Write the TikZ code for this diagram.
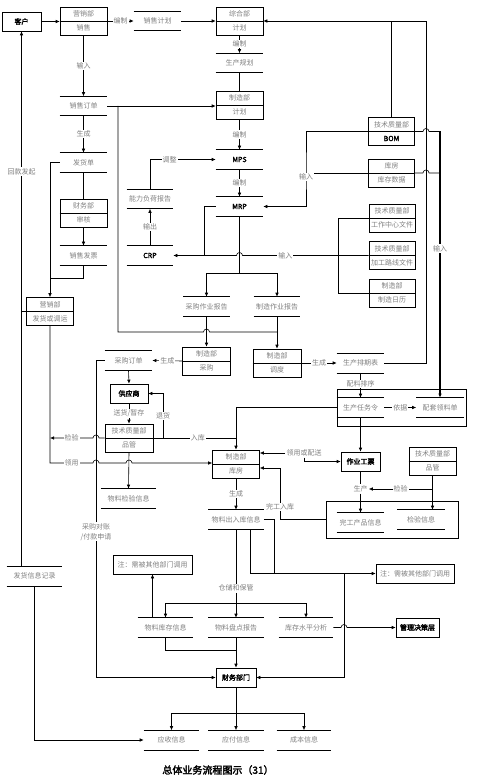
\documentclass[tikz,border=0pt]{standalone}
\usepackage{fontspec}
\setmainfont{Noto Sans CJK SC}
\newfontfamily\cjkbf[FakeBold=2.5]{Noto Sans CJK SC}
\usepackage{tikz}
\usetikzlibrary{arrows.meta,positioning,calc}

\begin{document}
\begin{tikzpicture}[
  x=1pt, y=-1pt, line width=0.6pt,
  every node/.style={font=\fontsize{7}{8}\selectfont, inner sep=0pt},
  deptbox/.style={draw, minimum height=28pt},
  keybox/.style ={draw, minimum height=19pt, font=\cjkbf\fontsize{7}{8}\selectfont},
  notebox/.style={draw, minimum height=19pt, text=black!50},
  store/.style  ={minimum height=19pt, text=black!50},
  frame/.style  ={draw},
  grey/.style   ={text=black!50},
  lbl/.style    ={text=black!50, fill=white, inner sep=1pt},
  arr/.style    ={-{Latex[length=4pt,width=3.5pt]}}]

\useasboundingbox (0,0) rectangle (477,783);

% two-part department box: name, centre, upper text, lower text
\newcommand{\twobox}[5][47]{%
  \node[deptbox, minimum width=#1pt] (#2) at (#3) {};
  \draw (#2.west) -- (#2.east);
  \node[grey] at ($(#2.center)+(0,-7)$) {#4};
  \node[grey] at ($(#2.center)+(0,7)$) {#5};}
% data store: two horizontal lines
\newcommand{\dstore}[4][47]{%
  \node[store, minimum width=#1pt] (#2) at (#3) {#4};
  \draw (#2.north west) -- (#2.north east) (#2.south west) -- (#2.south east);}

% ============================  boxes  ================================
\node[keybox, minimum width=39pt] (kh) at (21.5,21.5) {客户};
\twobox{yxxs}{83.5,21}{营销部}{销售}
\dstore{xsjh}{157.5,21}{销售计划}
\twobox{zhjh}{239.5,21}{综合部}{计划}
\dstore{scgh}{239.5,63}{生产规划}
\twobox{zzjh}{239.5,105}{制造部}{计划}
\dstore{mps}{239.5,159.5}{{\cjkbf\color{black}MPS}}
\dstore{mrp}{239.5,206.5}{{\cjkbf\color{black}MRP}}
\dstore[46]{nlfh}{150,199}{能力负荷报告}
\dstore[46]{crp}{150,255.5}{{\cjkbf\color{black}CRP}}

\dstore{xsdd}{83.5,106}{销售订单}
\dstore{fhd}{83.5,162.5}{发货单}
\twobox{cwsh}{83.5,213}{财务部}{审核}
\dstore{xsfp}{83.5,255.5}{销售发票}
\twobox{yxdy}{50,311.5}{营销部}{发货或调运}

\twobox[46]{bom}{391.5,131.5}{技术质量部}{{\cjkbf\color{black}BOM}}
\twobox[46]{kfsj}{391.5,173}{库房}{库存数据}
\twobox[46]{gzzx}{392,218}{技术质量部}{工作中心文件}
\twobox[46]{jglx}{392,255.5}{技术质量部}{加工路线文件}
\twobox[46]{zzrl}{392,293}{制造部}{制造日历}

\dstore[46]{cgzy}{206.5,306.5}{采购作业报告}
\dstore[46]{zzzy}{277,306.5}{制造作业报告}
\twobox[48]{zzcg}{206.5,361}{制造部}{采购}
\twobox[48]{zzdd}{277,363}{制造部}{调度}
\dstore{cgdd}{128.5,360.5}{采购订单}
\dstore{scpc}{360.5,363}{生产排期表}
\node[keybox, minimum width=38pt] (gys) at (129,393.5) {供应商};
\twobox[48]{pgl}{129,438}{技术质量部}{品管}

\node[frame, minimum width=129pt, minimum height=37pt] (rwbox) at (401.5,407.5) {};
\dstore{scrw}{360.5,407.5}{生产任务令}
\dstore{ptll}{440,407.5}{配套领料单}
\twobox{kfgl}{236,464}{制造部}{库房}
\node[keybox, minimum width=39pt] (zygp) at (360.5,461.5) {作业工票};
\twobox{pgr}{432.5,461}{技术质量部}{品管}

\dstore[55]{wljy}{128.5,498.5}{物料检验信息}
\node[frame, minimum width=132pt, minimum height=37pt] (wcbox) at (392,519.5) {};
\dstore{wccp}{360.5,522.5}{完工产品信息}
\dstore{jyxx}{421,519.5}{检验信息}
\dstore[55]{crk}{236,519.5}{物料出入库信息}

\node[notebox, minimum width=79pt] (zhu1) at (152.5,564.5) {注：需被其他部门调用};
\node[notebox, minimum width=78pt] (zhu2) at (415,573.5) {注：需被其他部门调用};
\dstore[55]{fhjl}{34.5,576}{发货信息记录}

\dstore[55]{wlkc}{165.5,627.5}{物料库存信息}
\dstore[55]{wlpd}{236,627.5}{物料盘点报告}
\dstore[54]{kcsp}{306,627.5}{库存水平分析}
\node[keybox, minimum width=43pt] (gljc) at (417.5,627.5) {管理决策层};
\node[keybox, minimum width=40pt] (cwbm) at (236,677.5) {财务部门};

\dstore[55]{ysxx}{171.5,740}{应收信息}
\dstore[55]{yfxx}{236,740}{应付信息}
\dstore[54]{cbxx}{304,740}{成本信息}

% ==========================  connectors  =============================
\coordinate (c1) at (426,21);
\coordinate (k1) at (239.5,273);
\coordinate (l1) at (306,173);
\coordinate (m3) at (204,255.5);
\coordinate (n1) at (440,131.5);
\coordinate (p1) at (118,106);
\coordinate (u1) at (50,278);
\coordinate (x1) at (50,463);
\coordinate (a1) at (96,360.5);
\coordinate (d1) at (163,438);
\coordinate (e1) at (236,438);
\coordinate (w1) at (280,468);
\coordinate (q1) at (250,573.5);
\coordinate (q2) at (274,573.5);
\coordinate (q3) at (344,573.5);
\coordinate (r1) at (236,603);
\coordinate (t1) at (236,650);
\coordinate (v2) at (236,713);

% top row and planning column
\draw[arr] (kh.east) -- (kh.east -| yxxs.west);
\draw[arr] (yxxs.east) -- node[lbl] {编制} (xsjh.west);
\draw[arr] (xsjh.east) -- (zhjh.west);
\draw[arr] (scpc.east) -| (c1) -- (zhjh.east);
\draw (bom.north) -- (bom.north |- c1);
\draw[arr] (zhjh.south) -- node[lbl] {编制} (scgh.north);
\draw (scgh.south) -- (zzjh.north);
\draw[arr] (zzjh.south) -- node[lbl] {编制} (mps.north);
\draw[arr] (mps.south) -- node[lbl] {编制} (mrp.north);
\draw[arr] (nlfh.north) |- node[lbl, pos=0.65] {调整} (mps.west);
\draw[arr] (crp.north) -- node[lbl] {输出} (nlfh.south);
\draw (mrp.south) -- (k1);
\draw[arr] (k1) -| (cgzy.north);
\draw[arr] (k1) -| (zzzy.north);
\draw[arr] (cgzy.south) -- (zzcg.north);
\draw[arr] (zzzy.south) -- (zzdd.north);

% inputs from the technical files
\draw[arr] (bom.west) -| (l1) |- (mrp.east);
\draw (kfsj.west) -- (l1);
\node[lbl] (sr1) at (306,177) {输入};
\draw (gzzx.west) -- ++(-30,0) |- (zzrl.west);
\draw[arr] (jglx.west) -- node[lbl, pos=0.66] {输入} (242.5,255.5)
  arc[start angle=0, end angle=-180, radius=3] -- (crp.east);
\draw (m3) |- (mrp.west);
\draw (bom.east) -- (423,131.5) arc[start angle=180, end angle=360, radius=3] -- (n1);
\draw (kfsj.east) -- (423,173) arc[start angle=180, end angle=360, radius=3] -- (440,173);
\draw[arr, line width=1.1pt] (n1) -- node[lbl, pos=0.44] {输入} (ptll.north);

% sales column
\draw[arr] (xsdd.east) -- (xsdd.east -| zzjh.west);
\draw (p1) -- (118,332) -- (203.5,332) arc[start angle=180, end angle=360, radius=3] -- (277,332);
\draw[arr] (yxxs.south) -- node[lbl] {输入} (xsdd.north);
\draw[arr] (xsdd.south) -- node[lbl] {生成} (fhd.north);
\draw (fhd.south) -- (cwsh.north);
\draw[arr] (cwsh.south) -- (xsfp.north);
\draw (xsfp.south) |- (u1);
\draw[arr] (fhd.west) -| (yxdy.north);
\draw[arr] (yxdy.west) -| node[lbl, pos=0.75] {回款发起} (kh.south);
\draw (yxdy.west -| kh.south) -- (kh.south |- fhjl.north);
\draw[arr] (fhjl.south) |- (ysxx.west);
\draw[arr] (yxdy.south) -- (x1) -- node[lbl] {领用} (93,463)
  arc[start angle=180, end angle=360, radius=3] -- (126,463)
  arc[start angle=180, end angle=360, radius=3] -- (x1 -| kfgl.west);
\draw[arr] (pgl.west) -- (99,438) arc[start angle=0, end angle=-180, radius=3]
  -- node[lbl] {检验} (50,438);

% purchasing
\draw[arr] (zzcg.west) -- node[lbl] {生成} (cgdd.east);
\draw[arr] (cgdd.west) -- (a1) |- node[lbl, pos=0.27, align=center,
  font=\fontsize{7}{10}\selectfont] {采购对账\\/付款申请} (cwbm.west);
\draw[arr] (cgdd.south) -- (gys.north);
\draw[arr] (gys.south) -- node[lbl] {送货/暂存} (pgl.north);
\draw[arr] (d1) |- node[lbl, pos=0.25] {退货} (gys.east);
\draw[arr] (pgl.east) -- node[lbl, pos=0.54] {入库} (e1) -- (kfgl.north);
\draw (rwbox.west) -| (e1);
\draw[arr] (pgl.south) -- (wljy.north);

% production
\draw[arr] (zzdd.east) -- node[lbl] {生成} (scpc.west);
\draw[arr] (scpc.south) -- node[lbl, pos=0.45] {配料排序} (scrw.north);
\draw[arr] (scrw.east) -- node[lbl] {依据} (ptll.west);
\draw[arr] (scrw.south) -- (zygp.north);
\node[lbl] (lyps) at (304,453) {领用或配送};
\draw[arr] (lyps.west) -- (lyps.west -| kfgl.east);
\draw[arr] (lyps.south) |- (zygp.west);
\node[lbl] (scl) at (360.5,489) {生产};
\draw (zygp.south) -- (scl.north);
\draw[arr] (scl.south) -- (wccp.north);
\draw[arr] (pgr.south |- scl) -- node[lbl] {检验} (scl.east);
\draw[arr] (pgr.south) -- (pgr.south |- jyxx.north);
\draw[arr] (wcbox.west) -| node[lbl, pos=0.62] {完工入库} (w1) -- (w1 -| kfgl.east);

% stock and finance
\draw[arr] (kfgl.south) -- node[lbl] {生成} (crk.north);
\draw (crk.east) -| (q2);
\draw[arr] (crk.south -| q1) -- (q1) -- (zhu2.west);
\draw[arr] (q3) |- (cwbm.east);
\draw (crk.south) -- node[lbl, pos=0.8] {仓储和保管} (r1);
\draw[arr] (r1) -| (wlkc.north);
\draw[arr] (r1) -- (wlpd.north);
\draw[arr] (r1) -| (kcsp.north);
\draw[arr] (zhu1.south |- wlkc.north) -- (zhu1.south);
\draw (wlkc.south) |- (t1);
\draw[arr] (wlpd.south) -- (cwbm.north);
\draw[arr] (kcsp.east) -- (341,627.5) arc[start angle=180, end angle=360, radius=3] -- (gljc.west);
\draw (cwbm.south) -- (v2);
\draw[arr] (v2) -| (ysxx.north);
\draw[arr] (v2) -- (yfxx.north);
\draw[arr] (v2) -| (cbxx.north);

\node[font=\cjkbf\fontsize{10}{12}\selectfont] (title) at (218,770) {总体业务流程图示（31）};
\end{tikzpicture}
\end{document}
